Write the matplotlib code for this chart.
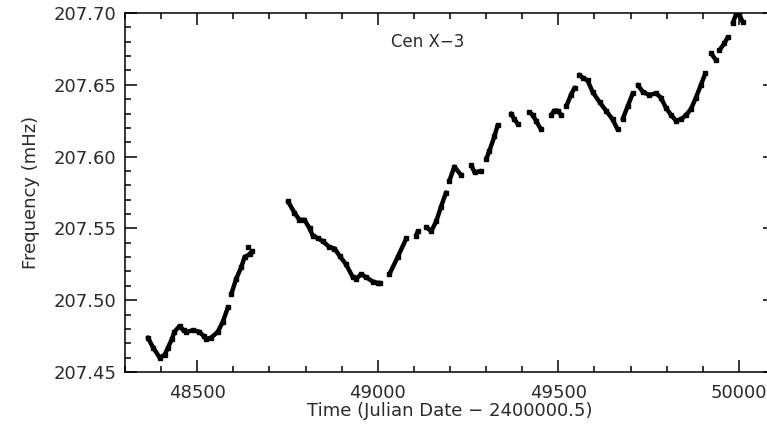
import numpy as np
import matplotlib
matplotlib.use("Agg")
import matplotlib.pyplot as plt
from matplotlib.ticker import MultipleLocator, FormatStrFormatter

nan = np.nan

## Cen X-3 pulse frequency history (None-style NaN breaks = gaps in coverage)
time_mjd = [
    48363, 48378, 48396, 48410, 48419, 48430, 48437, 48451, 48462, 48470,
    48488, 48506, 48518, 48525, 48539, 48557, 48571, 48585, nan,
    48594, 48608, 48622, 48631, 48645, 48652, nan,
    48751, 48769, 48783, 48797, 48811, 48820, 48835, 48848, 48866, 48880,
    48894, 48912, 48931, 48940, 48954, 48968, 48986, 49000, 49007, nan,
    49032, 49055, 49079, nan,
    49106, 49111, nan,
    49134, 49148, 49162, 49175, 49189, nan,
    49198, 49212, 49231, nan,
    49259, 49268, 49286, nan,
    49300, 49309, 49323, 49332, nan,
    49369, 49378, 49387, nan,
    49420, 49429, 49438, 49452, nan,
    49480, 49489, 49498, 49508, nan,
    49522, 49535, 49545, nan,
    49558, 49567, 49581, 49595, 49614, 49632, 49650, 49664, nan,
    49678, 49692, 49706, nan,
    49720, 49734, 49752, 49771, 49784, 49798, 49812, 49826, 49840, 49854,
    49867, 49881, 49895, 49907, nan,
    49923, 49937, nan,
    49946, 49960, 49969, nan,
    49983, 49992, 50001, 50010,
]
freq_mhz = [
    207.474, 207.467, 207.460, 207.462, 207.467, 207.473, 207.478, 207.482, 207.479, 207.478,
    207.479, 207.478, 207.475, 207.473, 207.474, 207.478, 207.485, 207.495, nan,
    207.504, 207.515, 207.523, 207.530, 207.532, 207.534, nan,
    207.569, 207.561, 207.556, 207.556, 207.550, 207.545, 207.543, 207.541, 207.537, 207.536,
    207.531, 207.525, 207.516, 207.515, 207.518, 207.516, 207.513, 207.512, 207.512, nan,
    207.518, 207.530, 207.543, nan,
    207.545, 207.548, nan,
    207.551, 207.548, 207.555, 207.565, 207.575, nan,
    207.583, 207.593, 207.587, nan,
    207.594, 207.589, 207.590, nan,
    207.598, 207.604, 207.614, 207.622, nan,
    207.630, 207.626, 207.623, nan,
    207.631, 207.629, 207.625, 207.619, nan,
    207.629, 207.632, 207.632, 207.629, nan,
    207.635, 207.643, 207.648, nan,
    207.657, 207.655, 207.653, 207.645, 207.638, 207.632, 207.626, 207.619, nan,
    207.626, 207.635, 207.644, nan,
    207.650, 207.645, 207.643, 207.644, 207.641, 207.634, 207.629, 207.625, 207.626, 207.629,
    207.633, 207.641, 207.650, 207.658, nan,
    207.672, 207.667, nan,
    207.674, 207.679, 207.683, nan,
    207.693, 207.699, 207.699, 207.694,
]
# isolated point
lone_time = [48640]
lone_freq = [207.537]

plt.rcParams['font.family'] = ['DejaVu Sans']
text_color = '#2a2a2a'

fig = plt.figure(figsize=(7.67, 4.32), dpi=100)
ax = fig.add_axes([125 / 767, 60 / 432, 650 / 767, 359 / 432])

ax.plot(time_mjd, freq_mhz, color='black', lw=3.2, solid_capstyle='round',
        marker='s', ms=2.5, mec='black', mfc='black')
ax.plot(lone_time, lone_freq, 's', color='black', ms=3)

ax.set_xlim(48300, 50100)
ax.set_ylim(207.45, 207.70)

ax.xaxis.set_major_locator(MultipleLocator(500))
ax.xaxis.set_minor_locator(MultipleLocator(100))
ax.yaxis.set_major_locator(MultipleLocator(0.05))
ax.yaxis.set_minor_locator(MultipleLocator(0.01))
ax.yaxis.set_major_formatter(FormatStrFormatter('%.2f'))

ax.tick_params(which='both', direction='in', top=True, right=True,
               width=1.1, colors='black', labelcolor=text_color, labelsize=13)
ax.tick_params(which='major', length=8.6)
ax.tick_params(which='minor', length=4.3)
ax.tick_params(axis='x', pad=9)
ax.tick_params(axis='y', pad=6)

for s in ax.spines.values():
    s.set_linewidth(1.1)

ax.set_xlabel('Time (Julian Date \u2212 2400000.5)', fontsize=13, color=text_color, labelpad=0)
ax.set_ylabel('Frequency (mHz)', fontsize=13, color=text_color, labelpad=10)
ax.text(0.466, 0.919, 'Cen X\u22123', transform=ax.transAxes, ha='center', va='center',
        fontsize=12, color=text_color)

fig.savefig('out.png', dpi=100)
